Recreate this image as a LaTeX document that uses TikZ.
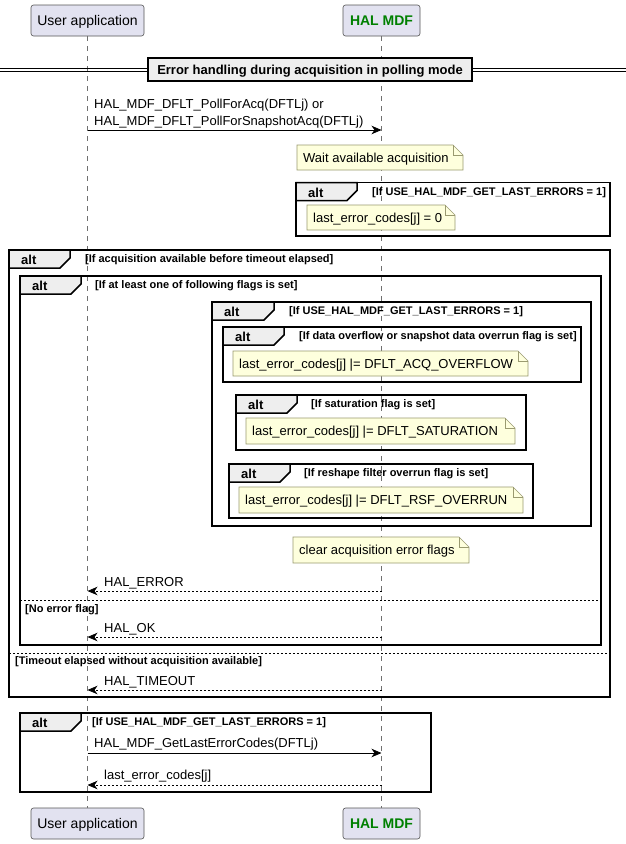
\documentclass[tikz,border=0pt]{standalone}
\usepackage{fontspec}
\setmainfont{Liberation Sans}
\usetikzlibrary{arrows.meta}
\definecolor{partfill}{HTML}{E2E2F0}
\definecolor{partdraw}{HTML}{555555}
\definecolor{notefill}{HTML}{FEFFDD}
\definecolor{notedraw}{HTML}{9A9A70}
\definecolor{tabfill}{HTML}{EEEEEE}
\definecolor{halgreen}{HTML}{008000}
\definecolor{lifecol}{HTML}{707070}
\tikzset{
  partbox/.style={draw=partdraw, fill=partfill, line width=0.6pt, rounded corners=2.5pt,
    minimum height=31pt, inner sep=0pt, font=\fontsize{14}{16}\selectfont, text height=10pt, text depth=0pt},
  lifeline/.style={draw=lifecol, line width=0.6pt, dash pattern=on 5pt off 5pt},
  msgtext/.style={font=\fontsize{13}{15}\selectfont, anchor=west, inner sep=0pt, text height=9.4pt, text depth=0pt},
  notetext/.style={msgtext},
  alttext/.style={font=\bfseries\fontsize{13}{15}\selectfont, anchor=west, inner sep=0pt, text height=9.4pt, text depth=0pt},
  condtext/.style={font=\bfseries\fontsize{11}{13}\selectfont, anchor=west, inner sep=0pt, text height=7.9pt, text depth=0pt},
  frame/.style={draw=black, line width=1.5pt},
  tabshape/.style={draw=black, fill=tabfill, line width=1.5pt, line join=miter},
  notebox/.style={draw=notedraw, fill=notefill, line width=0.7pt},
  call/.style={draw=black, line width=0.8pt, -{Stealth[length=10pt,width=8.5pt,inset=3pt]}},
  ret/.style={draw=black, line width=0.8pt, dash pattern=on 2pt off 2pt, -{Stealth[length=10pt,width=8.5pt,inset=3pt]}},
  sepline/.style={draw=black, line width=0.8pt, dash pattern=on 2pt off 2pt},
}
\newcommand\mynote[6]{%
  \filldraw[notebox] (#2,#3) -- (#4-10,#3) -- (#4,#3+10) -- (#4,#5) -- (#2,#5) -- cycle;
  \draw[notebox, fill=none] (#4-10,#3) -- (#4-10,#3+10) -- (#4,#3+10);
  \node[notetext] (#1) at (#2+6,{(#3+#5)/2}) {#6};}
\newcommand\myalt[8]{%
  \draw[frame] (#2,#3) rectangle (#4,#5);
  \filldraw[tabshape] (#2,#3) -- (#6,#3) -- (#6,#3+8) -- (#6-10,#3+18) -- (#2,#3+18) -- cycle;
  \node[alttext] (#1a) at (#2+12,#3+10) {alt};
  \node[condtext] (#1c) at (#7,#3+9) {#8};}
\begin{document}
\begin{tikzpicture}[x=1pt,y=-1pt]
\useasboundingbox (0,0) rectangle (626,844);
\fill[white] (0,0) rectangle (626,844);
% participants
\node[partbox, minimum width=113pt] (ut) at (87.5,20.5) {User application};
\node[partbox, minimum width=77pt, font=\bfseries\fontsize{14}{16}\selectfont, text=halgreen] (ht) at (381.5,20.5) {HAL MDF};
\node[partbox, minimum width=113pt] (ub) at (87.5,823.5) {User application};
\node[partbox, minimum width=77pt, font=\bfseries\fontsize{14}{16}\selectfont, text=halgreen] (hb) at (381.5,823.5) {HAL MDF};
\draw[lifeline] (ut.south) -- (ub.north);
\draw[lifeline] (ht.south) -- (hb.north);
% divider
\draw[line width=0.9pt] (0,68.5) -- (626,68.5);
\draw[line width=0.9pt] (0,71.5) -- (626,71.5);
\node[draw=black, fill=tabfill, line width=1.5pt, minimum width=324pt, minimum height=23pt, inner sep=0pt,
  font=\bfseries\fontsize{13}{15}\selectfont, text height=9.4pt, text depth=0pt] (div) at (310,69.5)
  {Error handling during acquisition in polling mode};
% message 1
\node[msgtext] (m1a) at (94,104) {HAL\_MDF\_DFLT\_PollForAcq(DFTLj) or};
\node[msgtext] (m1b) at (94,121) {HAL\_MDF\_DFLT\_PollForSnapshotAcq(DFTLj)};
\coordinate (m1u) at (87.5,130);
\coordinate (m1h) at (381.5,130);
\draw[call] (m1u) -- (m1h);
% wait note
\mynote{nwait}{297}{145}{463}{170}{Wait available acquisition}
% alt 1
\myalt{altA}{296}{182.5}{610}{236}{357}{372}{[If USE\_HAL\_MDF\_GET\_LAST\_ERRORS = 1]}
\mynote{nzero}{307}{205}{455}{230}{last\_error\_codes[j] = 0}
% big alt
\myalt{altB}{9}{250}{610}{697}{70}{85}{[If acquisition available before timeout elapsed]}
\myalt{altC}{20}{276}{601}{645}{81}{95}{[If at least one of following flags is set]}
\myalt{altD}{212}{302}{591}{526}{274}{289}{[If USE\_HAL\_MDF\_GET\_LAST\_ERRORS = 1]}
\myalt{altE}{223}{327}{581}{382}{284}{299}{[If data overflow or snapshot data overrun flag is set]}
\mynote{nover}{233}{351}{528}{376}{last\_error\_codes[j] |= DFLT\_ACQ\_OVERFLOW}
\myalt{altF}{236}{395}{526}{450}{297}{311}{[If saturation flag is set]}
\mynote{nsat}{246}{418}{515}{444}{last\_error\_codes[j] |= DFLT\_SATURATION}
\myalt{altG}{229}{464}{533}{518}{290}{304}{[If reshape filter overrun flag is set]}
\mynote{nrsf}{239}{487}{523}{513}{last\_error\_codes[j] |= DFLT\_RSF\_OVERRUN}
\mynote{nclear}{293}{537}{469}{563}{clear acquisition error flags}
% HAL_ERROR
\node[msgtext] (rerr) at (104,582) {HAL\_ERROR};
\coordinate (r1h) at (381.5,591);
\coordinate (r1u) at (87.5,591);
\draw[ret] (r1h) -- (r1u);
\draw[sepline] (20,600) -- (601,600);
\node[condtext] (noerr) at (25,609) {[No error flag]};
\node[msgtext] (rok) at (104,628) {HAL\_OK};
\coordinate (r2h) at (381.5,637);
\coordinate (r2u) at (87.5,637);
\draw[ret] (r2h) -- (r2u);
\draw[sepline] (9,653) -- (610,653);
\node[condtext] (tmo) at (15,661) {[Timeout elapsed without acquisition available]};
\node[msgtext] (rtmo) at (104,681) {HAL\_TIMEOUT};
\coordinate (r3h) at (381.5,690);
\coordinate (r3u) at (87.5,690);
\draw[ret] (r3h) -- (r3u);
% bottom alt
\myalt{altH}{20}{713}{431}{792}{81}{92}{[If USE\_HAL\_MDF\_GET\_LAST\_ERRORS = 1]}
\node[msgtext] (mget) at (94,743) {HAL\_MDF\_GetLastErrorCodes(DFTLj)};
\coordinate (m2u) at (87.5,753);
\coordinate (m2h) at (381.5,753);
\draw[call] (m2u) -- (m2h);
\node[msgtext] (rlast) at (104,775) {last\_error\_codes[j]};
\coordinate (r4h) at (381.5,785);
\coordinate (r4u) at (87.5,785);
\draw[ret] (r4h) -- (r4u);
\end{tikzpicture}
\end{document}
